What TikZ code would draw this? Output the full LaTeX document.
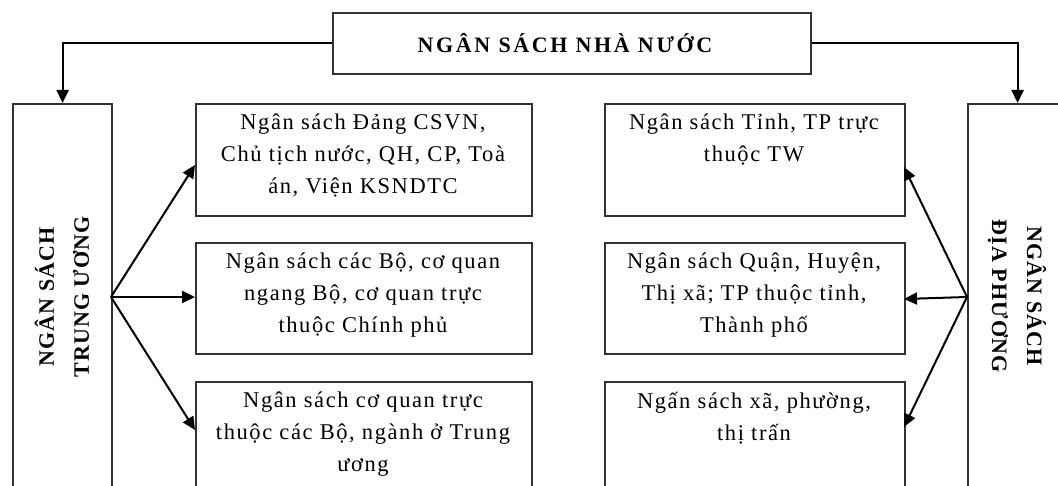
\documentclass[tikz,border=0pt]{standalone}
\usepackage{fontspec}
\setmainfont{Liberation Serif}
\newfontfamily\boxfont[LetterSpace=7]{Liberation Serif}
\newfontfamily\titlefont[LetterSpace=12]{Liberation Serif}
\newfontfamily\sidefont[LetterSpace=5]{Liberation Serif}
\usetikzlibrary{arrows.meta}
\tikzset{
  box/.style={draw=black!80, line width=2.2pt, rectangle, inner sep=0pt},
  arr/.style={draw=black, line width=2pt, -{Triangle[length=13pt,width=12pt]}},
  txt/.style={font=\boxfont\fontsize{22.5}{32}\selectfont, align=center, inner sep=0pt, anchor=north},
  vtxt/.style={font=\sidefont\bfseries\fontsize{22}{35}\selectfont, align=center, inner sep=0pt},
}
\begin{document}
\begin{tikzpicture}[x=1pt,y=-1pt]
\useasboundingbox (0,0) rectangle (1058,486);
\clip (0,0) rectangle (1058,486);
% top
\node[box, minimum width=478pt, minimum height=61pt, font=\titlefont\bfseries\fontsize{22}{26}\selectfont] (top) at (572,43.5) {NGÂN SÁCH NHÀ NƯỚC\hspace*{14pt}};
% side boxes
\node[box, minimum width=99pt, minimum height=440pt, anchor=north west] (lb) at (12,103) {};
\node[vtxt, rotate=90] (lbt) at (62,297) {NGÂN SÁCH\\TRUNG ƯƠNG};
\node[box, minimum width=99pt, minimum height=440pt, anchor=north west] (rb) at (967,103) {};
\node[vtxt, rotate=-90] (rbt) at (1017,296) {NGÂN SÁCH\\ĐỊA PHƯƠNG};
% left middle boxes
\node[box, minimum width=336pt, minimum height=112pt, anchor=north west] (l1) at (195,103) {};
\node[box, minimum width=336pt, minimum height=111pt, anchor=north west] (l2) at (195,242) {};
\node[box, minimum width=336pt, minimum height=150pt, anchor=north west] (l3) at (195,381) {};
\node[txt] (l1t) at (363,114) {Ngân sách Đảng CSVN,\\Chủ tịch nước, QH, CP, Toà\\án, Viện KSNDTC};
\node[txt] (l2t) at (363,253) {Ngân sách các Bộ, cơ quan\\ngang Bộ, cơ quan trực\\thuộc Chính phủ};
\node[txt] (l3t) at (363,392) {Ngân sách cơ quan trực\\thuộc các Bộ, ngành ở Trung\\ương};
% right middle boxes
\node[box, minimum width=300pt, minimum height=112pt, anchor=north west] (r1) at (604,103) {};
\node[box, minimum width=300pt, minimum height=111pt, anchor=north west] (r2) at (604,242) {};
\node[box, minimum width=300pt, minimum height=150pt, anchor=north west] (r3) at (604,381) {};
\node[txt] (r1t) at (754,114) {Ngân sách Tỉnh, TP trực\\thuộc TW};
\node[txt] (r2t) at (754,253) {Ngân sách Quận, Huyện,\\Thị xã; TP thuộc tỉnh,\\Thành phố};
\node[txt] (r3t) at (754,392) {Ngấn sách xã, phường,\\thị trấn};
% connectors from top
\draw[arr] (top.west) -| (lb.north);
\draw[arr] (top.east) -| (rb.north);
% fan-out coordinates
\coordinate (ls) at (111,297);
\coordinate (rs) at (967,297);
\coordinate (l1e) at (195,165);
\coordinate (l2e) at (195,297);
\coordinate (l3e) at (195,430);
\coordinate (r1e) at (904,167);
\coordinate (r2e) at (904,299);
\coordinate (r3e) at (904,427);
\draw[arr] (ls) -- (l1e);
\draw[arr] (ls) -- (l2e);
\draw[arr] (ls) -- (l3e);
\draw[arr] (rs) -- (r1e);
\draw[arr] (rs) -- (r2e);
\draw[arr] (rs) -- (r3e);
\end{tikzpicture}
\end{document}
